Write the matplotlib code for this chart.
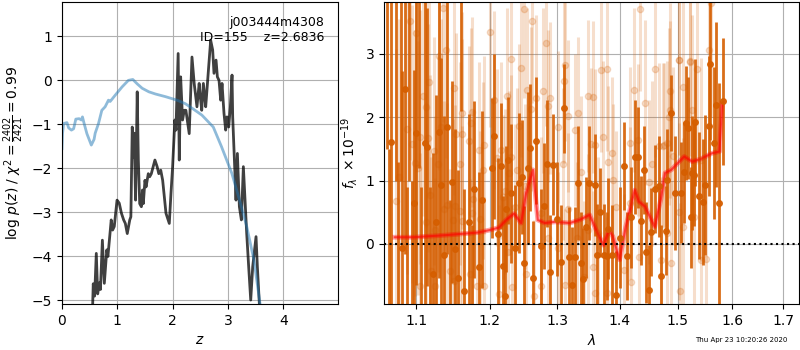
import numpy as np
import matplotlib
matplotlib.use('Agg')
import matplotlib.pyplot as plt
from matplotlib.ticker import FixedLocator, FixedFormatter, NullLocator

# p(z) panel
z_pz = [0.55, 0.565, 0.59, 0.62, 0.645, 0.675, 0.695, 0.73, 0.765, 0.81, 0.83,
        0.89, 0.915, 0.945, 0.995, 1.035, 1.075, 1.115, 1.145, 1.18, 1.225, 1.245,
        1.27, 1.29, 1.305, 1.33, 1.36, 1.38, 1.405, 1.435, 1.455, 1.47, 1.50, 1.52,
        1.56, 1.585, 1.615, 1.68, 1.72, 1.75, 1.785, 1.82, 1.88, 1.94, 1.97, 2.0,
        2.04, 2.06, 2.10, 2.12, 2.145, 2.18, 2.21, 2.24, 2.30, 2.35, 2.39, 2.44,
        2.48, 2.495, 2.526, 2.556, 2.598, 2.616, 2.652, 2.688, 2.724, 2.748, 2.785,
        2.809, 2.839, 2.869, 2.893, 2.929, 2.959, 2.983, 3.014, 3.044, 3.074, 3.086,
        3.122, 3.146, 3.171, 3.207, 3.243, 3.279, 3.339, 3.375, 3.412, 3.448, 3.508,
        3.532, 3.568, 3.60]
logpz = [-5.3, -4.62, -4.9, -3.93, -4.85, -4.6, -4.75, -3.63, -4.61, -3.85, -4.0,
         -3.17, -3.4, -3.32, -2.72, -2.79, -3.02, -3.17, -3.25, -3.48, -3.17, -3.1,
         -1.06, -1.74, -1.2, -2.72, -0.26, -1.81, -2.8, -2.87, -2.49, -2.8, -2.27, -2.42,
         -2.12, -2.19, -2.12, -1.81, -1.96, -2.12, -2.04, -2.27, -3.02, -3.25, -2.57, -1.96,
         -0.9, -1.13, 0.61, -1.81, 0.08, -0.90, -0.68, -0.68, -1.21, 0.53, -0.07, -0.60,
         -0.07, -0.30, -0.68, -0.07, -0.60, -0.30, 0.31, 0.91, 0.69, 0.16, 0.46,
         0.08, 0.00, -0.45, -0.07, -0.75, -1.13, -0.83, -1.06, -0.60, 0.12, -0.83,
         -1.96, -2.72, -1.66, -2.87, -3.17, -1.96, -3.47, -4.23, -4.99, -4.23, -3.55,
         -4.23, -5.07, -5.6]

z_chi = [0.0, 0.01, 0.03, 0.09, 0.12, 0.17, 0.21, 0.25, 0.31, 0.35, 0.37, 0.40,
         0.45, 0.53, 0.58, 0.60, 0.66, 0.72, 0.78, 0.84, 0.87, 0.89, 0.96, 1.085,
         1.2, 1.28, 1.36, 1.45, 1.57, 1.69, 1.87, 2.08, 2.23, 2.36, 2.53, 2.735,
         2.885, 3.07, 3.21, 3.34, 3.47, 3.58, 3.62]
chi_scaled = [-1.55, -1.2, -0.98, -0.96, -1.08, -1.13, -1.10, -0.88, -0.87, -0.90,
              -0.83, -0.98, -1.21, -1.47, -1.34, -1.2, -0.98, -0.68, -0.6, -0.45,
              -0.48, -0.45, -0.34, -0.15, 0.0, 0.02, -0.08, -0.18, -0.26, -0.31,
              -0.37, -0.45, -0.53, -0.64, -0.79, -1.06, -1.51, -2.11, -2.72, -3.32,
              -4.08, -5.07, -5.4]

# spectrum panel, main beam
wave_a = [1.062, 1.0645, 1.067, 1.0735, 1.077, 1.080, 1.082, 1.0853, 1.088, 1.091,
          1.094, 1.097, 1.100, 1.103, 1.106, 1.111, 1.114, 1.118, 1.122, 1.126,
          1.130, 1.133, 1.137, 1.141, 1.145, 1.148, 1.152, 1.156, 1.160, 1.164,
          1.171, 1.175, 1.178, 1.185, 1.189,
          1.203, 1.206, 1.2118, 1.2156, 1.2194, 1.2214, 1.224, 1.2271, 1.2309,
          1.2368, 1.2432, 1.2470, 1.250, 1.2555, 1.2590, 1.2634, 1.2679, 1.2754,
          1.280, 1.2845, 1.2891, 1.2937, 1.300, 1.3055, 1.3101, 1.3183, 1.3231,
          1.3278, 1.3320, 1.3372, 1.340, 1.3451, 1.3495,
          1.3601, 1.3627, 1.3676, 1.3736, 1.3785, 1.3812, 1.3877, 1.3946, 1.400,
          1.4080, 1.4124, 1.4189, 1.4260, 1.4316, 1.4365, 1.4409, 1.4443, 1.4494,
          1.4539, 1.4604, 1.4664, 1.470, 1.4790, 1.4818, 1.4882, 1.495, 1.5050,
          1.5104, 1.5138, 1.5180, 1.5238, 1.5251, 1.5291, 1.5314, 1.5390, 1.5450,
          1.5500, 1.5560, 1.5590, 1.5650, 1.5694, 1.5760, 1.5824]
flux_a = [4.5, -1.5, 1.61, 4.2, -1.3, 4.0, -0.07, 2.44, -1.4, 4.3,
          -1.2, 0.64, 1.75, 4.1, -1.1, 1.60, 1.53, -1.2, -0.47, 0.35,
          1.77, 0.93, -0.18, 1.84, -1.1, 0.98, -0.08, -0.53, 4.1, -0.74,
          0.35, -1.2, 0.86, -0.36, 0.70,
          1.20, 1.70, 0.16, 1.23, -0.35, -0.82, 0.55, 1.32, 0.80,
          -0.07, 0.96, 1.05, -0.30, 1.20, 1.52, -0.53, 1.63, -0.04,
          0.60, 1.27, -0.45, 1.25, 0.40, -0.29, 2.14, -0.21, -0.64,
          -0.21, 0.96, -0.30, -0.55, 0.26, 0.97,
          0.93, -0.17, 0.50, -0.17, -0.19, 0.24, -0.18, -0.81, 0.10,
          1.23, -0.19, 0.42, 1.37, 1.37, 0.37, 1.17, -0.13, -0.72,
          0.19, 0.87, 0.91, -0.50, 0.21, 1.01, 2.06, 0.80, 0.81,
          1.13, 1.91, 1.83, 0.42, 1.12, 1.09, 1.92, 0.76, 0.66,
          0.93, 1.86, 2.84, 1.59, 2.20, 0.64, 2.25]
err_a = [3.0, 3.0, 2.8, 3.2, 2.6, 3.0, 2.8, 2.6, 2.3, 3.3,
         2.2, 2.1, 2.4, 2.9, 2.0, 2.6, 2.2, 2.1, 1.9, 2.0,
         2.3, 2.0, 2.2, 2.0, 1.8, 1.6, 1.9, 1.7, 2.0, 1.6,
         1.7, 1.5, 1.4, 1.5, 1.4,
         1.1, 1.3, 1.2, 1.0, 1.1, 1.2, 1.0, 1.0, 1.1,
         1.0, 1.1, 0.9, 0.9, 1.2, 1.0, 0.9, 1.0, 0.9,
         1.0, 1.0, 0.9, 0.8, 0.9, 0.9, 0.7, 0.8, 0.9,
         0.8, 0.9, 0.8, 0.8, 0.8, 0.9,
         0.8, 0.8, 0.7, 0.8, 0.7, 0.8, 0.8, 0.7, 0.8,
         0.7, 0.7, 0.8, 0.9, 0.8, 0.7, 0.7, 0.8, 0.7,
         0.7, 0.7, 0.8, 0.8, 0.7, 0.8, 0.6, 0.9, 0.8,
         0.8, 0.9, 0.8, 0.8, 0.9, 0.8, 1.0, 1.0, 1.0,
         1.1, 1.1, 1.2, 1.2, 1.3, 1.9, 1.0]

# spectrum panel, second beam (faint)
wave_b = [1.0744, 1.0776, 1.0885, 1.0917, 1.0945, 1.0979, 1.1000, 1.1022, 1.1044,
          1.1048, 1.1087, 1.1123, 1.1130, 1.1153, 1.1163, 1.1176, 1.1189, 1.1240,
          1.1243, 1.1247, 1.1284, 1.1305, 1.1328, 1.1353, 1.1371, 1.1392, 1.1407,
          1.1443, 1.1485, 1.1499, 1.1506, 1.1517, 1.1529, 1.1584, 1.1591, 1.1608,
          1.1610, 1.1617, 1.1715, 1.1729, 1.1737, 1.1746, 1.1750, 1.1771, 1.1825,
          1.1853, 1.1860, 1.1899, 1.1919, 1.1925,
          1.2011, 1.2067, 1.2100, 1.2141, 1.2165, 1.2190, 1.2224, 1.2253, 1.2260,
          1.2278, 1.2309, 1.2315, 1.2320, 1.2363, 1.2398, 1.2420, 1.2456, 1.2504,
          1.2510, 1.2530, 1.2545, 1.2605, 1.2619, 1.2655, 1.2679, 1.2754, 1.2760,
          1.2790, 1.2830, 1.2855, 1.2860, 1.2891, 1.3016, 1.3019, 1.3086, 1.3112,
          1.3115, 1.3127, 1.3162, 1.3168, 1.3278, 1.3309, 1.3320, 1.3372, 1.3416,
          1.3479, 1.3485, 1.3531,
          1.3557, 1.3569, 1.3591, 1.3595, 1.3650, 1.3693, 1.3731, 1.3785, 1.3790,
          1.3812, 1.3869, 1.3896, 1.3946, 1.4080, 1.4178, 1.4180, 1.4185, 1.4238,
          1.4314, 1.4320, 1.4340, 1.4421, 1.4494, 1.4546, 1.4604, 1.4664, 1.4700,
          1.4742, 1.4759, 1.4802, 1.4805, 1.4853, 1.4865, 1.4870, 1.4875, 1.4919,
          1.5014, 1.5025, 1.5030, 1.5035, 1.5094, 1.5098, 1.5214, 1.5220, 1.5260,
          1.5298, 1.5350, 1.5420, 1.5425, 1.5510, 1.5574, 1.5600]
flux_b = [0.68, 1.05, 1.82, 3.52, 1.58, 1.28, 3.33, 1.20, -0.66,
          1.69, 2.34, 2.16, 0.34, 1.68, 2.56, 0.77, -0.42, 1.47,
          0.22, -0.66, 1.26, 2.96, 1.85, 3.72, 0.55, 3.06, 0.62,
          -0.42, 0.38, -0.58, 2.47, 0.60, 1.73, 0.52, 1.27, 1.73,
          0.37, 2.06, 1.62, -0.47, 1.91, 0.49, 2.08, 0.71, -0.66,
          1.48, 0.39, 1.16, 1.56, -0.66,
          3.34, 2.27, 1.36, -0.79, 1.48, 0.74, 0.83, 2.33, -0.12,
          1.12, 2.92, 1.37, -0.68, 0.59, 1.17, 1.86, 2.78, 3.71,
          0.91, -0.47, 2.43, 2.13, 3.52, -0.82, 2.31, 0.49, -0.67,
          2.42, 3.17, 2.18, 0.10, 2.31, 1.84, -0.07, 1.26, 2.58,
          -0.65, 2.83, 2.02, 0.55, 1.80, 0.09, 2.06, 1.13, -0.52,
          2.33, 0.22, 1.58,
          2.32, -0.36, 1.56, -0.78, 0.17, 2.75, 1.69, 2.77, -0.78,
          1.30, 1.43, 1.01, 0.59, -0.41, 1.59, 0.64, -0.60, 2.43,
          1.64, -0.20, 3.71, 2.23, 0.98, 1.27, 2.77, 1.55, -0.25,
          1.55, 1.56, 1.59, 0.17, 2.01, 2.41, 2.12, -0.30, 1.39,
          2.91, 2.91, 0.51, -0.75, 2.48, 0.27, 2.88, 2.89, 2.12,
          0.43, 2.77, 1.33, -0.25, -0.23, 3.06, 3.80]
err_b = [2.4, 2.5, 2.3, 2.2, 2.2, 2.1, 2.2, 2.0, 2.1,
         2.0, 1.9, 1.9, 1.9, 1.8, 1.8, 1.9, 1.8, 1.8,
         1.8, 1.7, 1.7, 1.8, 1.7, 1.8, 1.7, 1.7, 1.6,
         1.6, 1.6, 1.6, 1.7, 1.6, 1.6, 1.5, 1.6, 1.5,
         1.5, 1.6, 1.5, 1.5, 1.5, 1.5, 1.5, 1.4, 1.5,
         1.4, 1.4, 1.4, 1.4, 1.4,
         1.5, 1.4, 1.4, 1.4, 1.4, 1.3, 1.3, 1.4, 1.3,
         1.3, 1.4, 1.3, 1.3, 1.3, 1.3, 1.3, 1.4, 1.4,
         1.3, 1.3, 1.3, 1.3, 1.3, 1.2, 1.3, 1.2, 1.2,
         1.3, 1.3, 1.2, 1.2, 1.2, 1.2, 1.2, 1.2, 1.3,
         1.2, 1.2, 1.2, 1.2, 1.2, 1.2, 1.2, 1.2, 1.2,
         1.2, 1.2, 1.2,
         1.2, 1.2, 1.2, 1.2, 1.2, 1.3, 1.2, 1.3, 1.2,
         1.2, 1.2, 1.2, 1.2, 1.2, 1.2, 1.2, 1.2, 1.3,
         1.2, 1.2, 1.3, 1.3, 1.3, 1.3, 1.4, 1.3, 1.3,
         1.3, 1.3, 1.3, 1.3, 1.4, 1.4, 1.4, 1.3, 1.4,
         1.5, 1.5, 1.4, 1.4, 1.5, 1.4, 1.5, 1.5, 1.5,
         1.5, 1.5, 1.6, 1.6, 1.6, 1.7, 1.8]

# best-fit model
wave_m = [1.0722, 1.096, 1.1397, 1.1833, 1.2002, 1.2136, 1.2238, 1.2353, 1.2456,
          1.2530, 1.2634, 1.2705, 1.2810, 1.2970, 1.3194, 1.3352, 1.3511, 1.3616,
          1.3736, 1.3822, 1.3886, 1.4000, 1.4102, 1.4253, 1.4323, 1.4429, 1.4596,
          1.4700, 1.4776, 1.4885, 1.5114, 1.5260, 1.5410, 1.5615, 1.5760, 1.5810]
flux_m = [0.106, 0.106, 0.14, 0.18, 0.22, 0.26, 0.38, 0.48, 0.33,
          0.80, 1.17, 0.38, 0.33, 0.35, 0.33, 0.38, 0.46, 0.22,
          -0.02, 0.22, 0.12, -0.25, 0.27, 0.85, 0.67, 0.59, 0.27,
          0.70, 1.12, 1.17, 1.38, 1.30, 1.34, 1.43, 1.46, 2.22]

xticks_z = [0, 1, 2, 3, 4]
yticks_pz = [-5, -4, -3, -2, -1, 0, 1]
xticks_wave = [1.1, 1.2, 1.3, 1.4, 1.5, 1.6, 1.7]
yticks_flux = [0, 1, 2, 3]

fig = plt.figure(figsize=(8, 3.5), dpi=100)
ax = fig.add_axes([0.0775, 0.1314, 0.345, 0.8629])
ax.plot(z_pz, logpz, color='k', alpha=0.75, lw=2)
ax.plot(z_chi, chi_scaled, color='tab:blue', alpha=0.5, lw=2)
ax.set_xlim(0, 4.99)
ax.set_ylim(-5.08, 1.78)
ax.set_xticks(xticks_z)
ax.set_yticks(yticks_pz)
ax.grid()
ax.set_xlabel('$z$')
ax.set_ylabel(r'log $p(z)$ / $\chi^2=\frac{2402}{2421}=0.99$')
ax.text(0.95, 0.955, 'j003444m4308\nID=155    z=2.6836', ha='right', va='top',
        transform=ax.transAxes, fontsize=9)

ax2 = fig.add_axes([0.48, 0.1314, 0.51875, 0.8629])
ax2.errorbar(wave_b, flux_b, yerr=err_b, fmt='o', color='#D55E00', alpha=0.2,
             ms=4.5, lw=2.2, capsize=0)
ax2.errorbar(wave_a, flux_a, yerr=err_a, fmt='o', color='#D55E00', alpha=0.9,
             ms=4, lw=2, capsize=0)
ax2.plot(wave_m, flux_m, color='red', alpha=0.35, lw=3.5)
ax2.plot(wave_m, flux_m, color='red', alpha=0.6, lw=1.5)
ax2.set_xscale('log')
ax2.set_xlim(1.0587, 1.7319)
ax2.set_ylim(-0.948, 3.82)
ax2.plot([1.0587, 1.7319], [0, 0], 'k:', lw=1.5)
ax2.xaxis.set_major_locator(FixedLocator(xticks_wave))
ax2.xaxis.set_major_formatter(FixedFormatter(['%.1f' % w for w in xticks_wave]))
ax2.xaxis.set_minor_locator(NullLocator())
ax2.set_yticks(yticks_flux)
ax2.grid()
ax2.set_xlabel(r'$\lambda$')
ax2.set_ylabel(r'$f_\lambda\ \times 10^{-19}$')

fig.text(0.984, 0.028, 'Thu Apr 23 10:20:26 2020', ha='right', va='center',
         fontsize=5)

fig.savefig('out.png', dpi=100)
